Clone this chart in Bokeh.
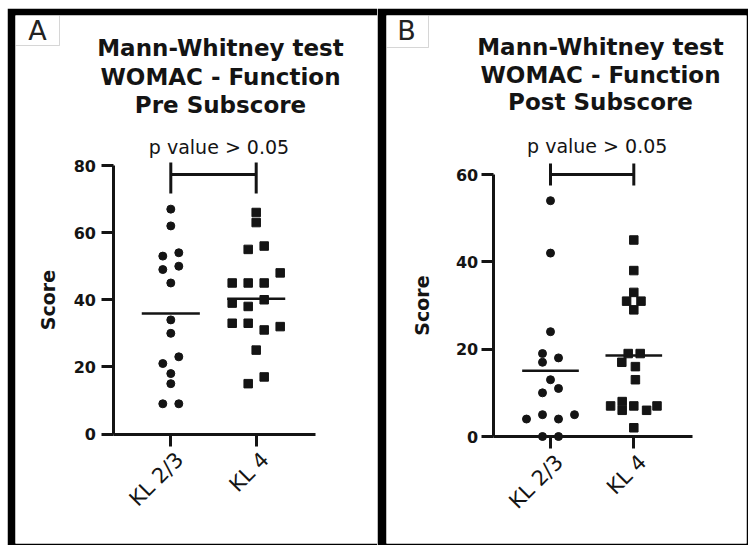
import numpy as np
from bokeh.plotting import figure
from bokeh.models import FixedTicker, Label, BoxAnnotation, Spacer, LinearAxis, Range1d
from bokeh.layouts import row, column
from bokeh.embed import file_html
from bokeh.resources import INLINE

# ---------------- data ----------------
categories = ["KL 2/3", "KL 4"]
panel_letters = ["A", "B"]
title_pre = ["Mann-Whitney test", "WOMAC - Function", "Pre Subscore"]
title_post = ["Mann-Whitney test", "WOMAC - Function", "Post Subscore"]
p_label = "p value > 0.05"
y_label = "Score"

pre_kl23 = [67, 62, 53, 54, 49, 50, 45, 34, 30, 23, 21, 18, 15, 9, 9]
pre_kl4 = [66, 63, 55, 56, 45, 45, 45, 48, 39, 38, 40, 33, 33, 31, 32, 25, 15, 17]
post_kl23 = [54, 42, 24, 19, 17, 18, 13, 11, 10, 4, 5, 4, 5, 0, 0]
post_kl4 = [45, 38, 33, 31, 31, 29, 19, 19, 17, 16, 13, 7, 8, 6, 7, 6, 7, 2]

# beeswarm column of each point (in half-marker steps)
pre_kl23_swarm = [0, 0, -1, 1, -1, 1, 0, 0, 0, 1, -1, 0, 0, -1, 1]
pre_kl4_swarm = [0, 0, -1, 1, -3, -1, 1, 3, -3, -1, 1, -3, -1, 1, 3, 0, -1, 1]
post_kl23_swarm = [0, 0, 0, -1, -1, 1, 0, 1, -1, -3, -1, 1, 3, -1, 1]
post_kl4_swarm = [0, 0, 0, -0.9, 0.9, 0, -0.7, 0.8, -1.5, 0.2, 0.2, -2.9, -1.45, -1.45, 0, 1.6, 2.9, 0]

pre_ticks = [0, 20, 40, 60, 80]
post_ticks = [0, 20, 40, 60]

# ---------------- styling / layout ----------------
FONT = "DejaVu Sans"
INK = "#141414"

spec_a = dict(box=(7, 8, 370, 537), border=(8, 7, 0, 2), cat_px=(170.3, 255.7),
              y_px=(433.5, 165.0), y_axis_px=112.5, x_end_px=315.0,
              title_cx=220.0, title_base=(47, 76, 104), p_pos=(218.5, 146),
              bracket_py=174.0, bracket_tick=(162.0, 193.0),
              letter_box=(15, 15, 59, 45), letter_pos=(37, 30),
              label_standoff=12, tick_standoff=5)
spec_b = dict(box=(377, 8, 371, 537), border=(9, 7, 2, 2), cat_px=(550.0, 633.3),
              y_px=(436.0, 174.0), y_axis_px=492.7, x_end_px=691.5,
              title_cx=600.0, title_base=(46, 74, 101), p_pos=(596.7, 145),
              bracket_py=174.0, bracket_tick=(163.0, 185.0),
              letter_box=(386, 15, 428, 47), letter_pos=(406, 30),
              label_standoff=20, tick_standoff=3)
LABEL_SHIFT_PX = 9  # category labels sit slightly right of their ticks


def style_axis(ax):
    ax.axis_line_color = INK
    ax.axis_line_width = 3
    ax.major_tick_line_color = INK
    ax.major_tick_line_width = 3
    ax.major_tick_out = 12
    ax.major_tick_in = 0
    ax.minor_tick_out = 0
    ax.minor_tick_in = 0
    ax.major_label_text_font = FONT
    ax.major_label_text_color = INK


def make_panel(spec, groups, swarms, ticks, title_lines, letter):
    ox, oy, w, h = spec["box"]
    bl, bt, br, bb = spec["border"]
    c1, c2 = spec["cat_px"]
    zero_py, top_py = spec["y_px"]
    ymax = ticks[-1]
    step = c2 - c1
    ppu = (zero_py - top_py) / ymax

    def X(px):
        return 1 + (px - c1) / step

    def Y(py):
        return (zero_py - py) / ppu

    fl, fr = ox + bl, ox + w - br
    ft, fb = oy + bt, oy + h - bb
    p = figure(width=w, height=h, x_range=Range1d(X(fl), X(fr)), y_range=Range1d(Y(fb), Y(ft)),
               toolbar_location=None, output_backend="svg",
               x_axis_type=None, y_axis_type=None,
               min_border_left=bl, min_border_right=br, min_border_top=bt, min_border_bottom=bb,
               border_fill_color="black", background_fill_color="white",
               outline_line_color=None)

    cat_pos = [i + 1 for i in range(len(categories))]
    ax0 = X(spec["y_axis_px"])
    xaxis = LinearAxis(fixed_location=0, bounds=(ax0, X(spec["x_end_px"])),
                       ticker=FixedTicker(ticks=cat_pos),
                       major_label_overrides={c: "" for c in cat_pos})
    style_axis(xaxis)
    p.add_layout(xaxis, "below")

    # category labels (drawn by a second, line-less axis)
    shift = LABEL_SHIFT_PX / step
    lab_pos = [c + shift for c in cat_pos]
    xlab = LinearAxis(fixed_location=0, ticker=FixedTicker(ticks=lab_pos),
                      major_label_overrides={lp: cat for lp, cat in zip(lab_pos, categories)})
    style_axis(xlab)
    xlab.axis_line_color = None
    xlab.major_tick_line_color = None
    xlab.major_label_text_font_size = "21px"
    xlab.major_label_orientation = np.pi / 4
    xlab.major_label_standoff = 10
    p.add_layout(xlab, "below")

    yaxis = LinearAxis(fixed_location=ax0, bounds=(0, ymax),
                       ticker=FixedTicker(ticks=ticks), axis_label=y_label)
    style_axis(yaxis)
    yaxis.major_label_text_font_size = "16px"
    yaxis.major_label_text_font_style = "bold"
    yaxis.major_label_standoff = spec["tick_standoff"]
    yaxis.axis_label_text_font = FONT
    yaxis.axis_label_text_font_size = "19px"
    yaxis.axis_label_text_font_style = "bold"
    yaxis.axis_label_text_color = INK
    yaxis.axis_label_standoff = spec["label_standoff"]
    p.add_layout(yaxis, "left")

    unit = 8.0 / step
    markers = ["circle", "square"]
    sizes = [8, 8.5]
    for i, (vals, sw) in enumerate(zip(groups, swarms)):
        xs = [cat_pos[i] + s * unit for s in sw]
        p.scatter(xs, vals, marker=markers[i], size=sizes[i],
                  fill_color=INK, line_color=INK, line_width=1)
        m = float(np.mean(vals))
        p.segment(x0=[cat_pos[i] - 0.34], x1=[cat_pos[i] + 0.34], y0=[m], y1=[m],
                  line_width=2.5, line_color=INK)

    # significance bracket
    by = Y(spec["bracket_py"])
    t_hi, t_lo = Y(spec["bracket_tick"][0]), Y(spec["bracket_tick"][1])
    p.segment(x0=[cat_pos[0]], x1=[cat_pos[1]], y0=[by], y1=[by], line_width=3, line_color=INK)
    p.segment(x0=cat_pos, x1=cat_pos, y0=[t_lo, t_lo], y1=[t_hi, t_hi], line_width=3, line_color=INK)
    p.add_layout(Label(x=X(spec["p_pos"][0]), y=Y(spec["p_pos"][1]), text=p_label,
                       text_align="center", text_baseline="alphabetic",
                       text_font=FONT, text_font_size="19px", text_color=INK))

    # title
    for line, base in zip(title_lines, spec["title_base"]):
        p.add_layout(Label(x=X(spec["title_cx"]), y=Y(base), text=line,
                           text_align="center", text_baseline="alphabetic",
                           text_font=FONT, text_font_size="23px", text_font_style="bold",
                           text_color=INK))

    # panel letter box
    lx0, ly0, lx1, ly1 = spec["letter_box"]
    p.add_layout(BoxAnnotation(left=X(lx0), right=X(lx1), top=Y(ly0), bottom=Y(ly1),
                               fill_color="white", fill_alpha=1.0,
                               line_color="#777777", line_width=1))
    p.add_layout(Label(x=X(spec["letter_pos"][0]), y=Y(spec["letter_pos"][1]), text=letter,
                       text_align="center", text_baseline="middle",
                       text_font=FONT, text_font_size="27px", text_color="#222222"))
    return p


pa = make_panel(spec_a, [pre_kl23, pre_kl4], [pre_kl23_swarm, pre_kl4_swarm],
                pre_ticks, title_pre, panel_letters[0])
pb = make_panel(spec_b, [post_kl23, post_kl4], [post_kl23_swarm, post_kl4_swarm],
                post_ticks, title_post, panel_letters[1])

layout = column(Spacer(width=748, height=8),
                row(Spacer(width=7, height=537), pa, pb))

open("out.html", "w").write(file_html(layout, INLINE))
